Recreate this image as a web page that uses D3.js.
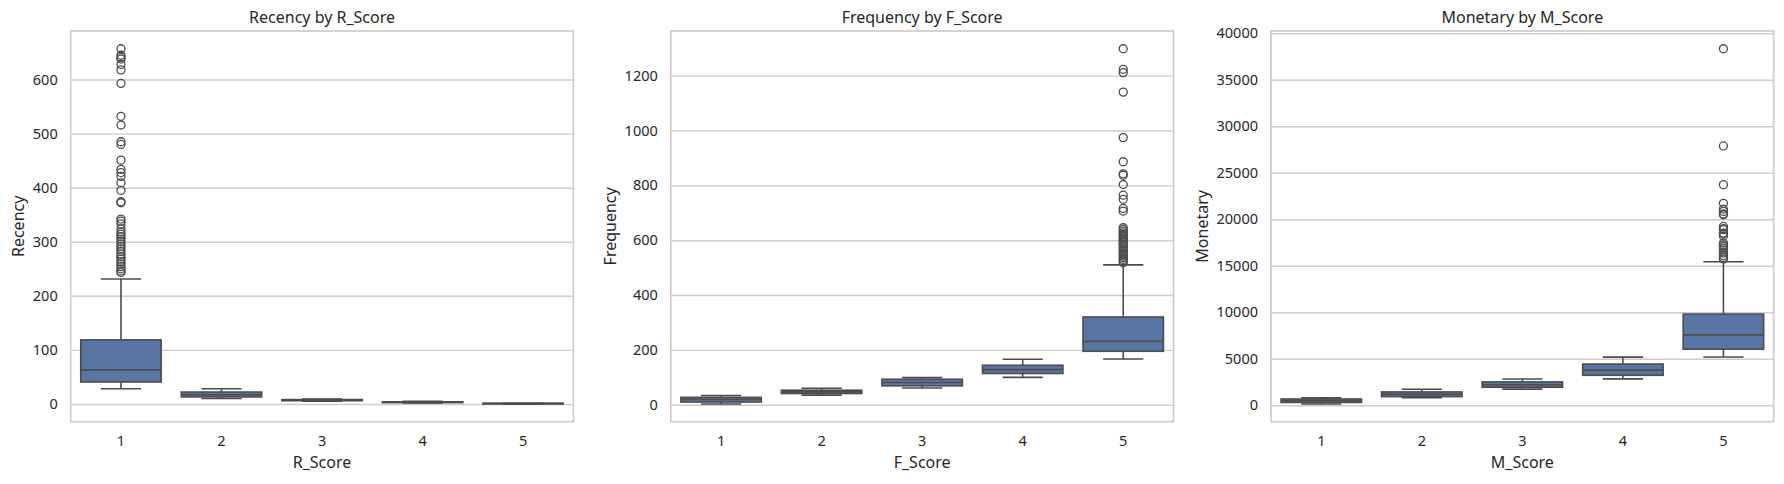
<!DOCTYPE html>
<html><head><meta charset="utf-8">
<script src="https://cdn.jsdelivr.net/npm/d3@7"></script>
<style>
body{margin:0;background:#fff}
text{font-family:"Noto Sans","Open Sans",sans-serif;fill:#262626}
</style>
</head><body>
<svg id="c" width="1784" height="484"></svg>
<script>
const categories = ["1","2","3","4","5"];

// Recency by R_Score
const recencyLow    = [28, 10, 5, 2, 0];
const recencyQ1     = [40.6, 13, 6, 2.5, 0];
const recencyMedian = [63, 17, 7, 3, 1];
const recencyQ3     = [118.5, 22, 8, 4, 1];
const recencyHigh   = [231, 28, 9, 5, 1];
const recencyOutliers = [
  [657, 645, 641, 638, 628, 618, 593, 532, 516, 485, 480, 451, 434, 428, 421, 409, 395, 374, 372,
   342, 338, 333, 324, 318, 314, 309, 305, 300, 296, 291, 287, 282, 277, 272, 268, 263, 259, 254, 250, 246, 243],
  [], [], [], []
];
const recencyTicks = [0, 100, 200, 300, 400, 500, 600];

// Frequency by F_Score
const frequencyLow    = [3, 35, 61, 100, 167];
const frequencyQ1     = [10, 41, 69, 114, 195];
const frequencyMedian = [19, 47, 81, 128, 231];
const frequencyQ3     = [27, 53, 93, 144, 320];
const frequencyHigh   = [34, 60, 99, 166, 510];
const frequencyOutliers = [
  [], [], [], [],
  [1298, 1223, 1211, 1140, 974, 886, 842, 837, 803, 764, 749, 716, 706, 646, 640, 633, 627, 621, 615,
   609, 603, 597, 591, 585, 579, 573, 566, 560, 554, 548, 542, 536, 530, 524, 518]
];
const frequencyTicks = [0, 200, 400, 600, 800, 1000, 1200];

// Monetary by M_Score
const monetaryLow    = [140, 800, 1730, 2840, 5190];
const monetaryQ1     = [300, 930, 1940, 3220, 6030];
const monetaryMedian = [480, 1180, 2210, 3780, 7570];
const monetaryQ3     = [670, 1430, 2510, 4430, 9800];
const monetaryHigh   = [790, 1720, 2830, 5180, 15440];
const monetaryOutliers = [
  [], [], [], [],
  [38340, 27890, 23720, 21720, 21100, 20850, 20570, 20490, 19230, 19000, 18880, 18520, 18450, 18200,
   17450, 17250, 17080, 16900, 16720, 16370, 16100, 15900, 15720]
];
const monetaryTicks = [0, 5000, 10000, 15000, 20000, 25000, 30000, 35000, 40000];

const panels = [
  {title:"Recency by R_Score", xLabel:"R_Score", yLabel:"Recency",
   low:recencyLow, q1:recencyQ1, med:recencyMedian, q3:recencyQ3, high:recencyHigh, out:recencyOutliers, ticks:recencyTicks},
  {title:"Frequency by F_Score", xLabel:"F_Score", yLabel:"Frequency",
   low:frequencyLow, q1:frequencyQ1, med:frequencyMedian, q3:frequencyQ3, high:frequencyHigh, out:frequencyOutliers, ticks:frequencyTicks},
  {title:"Monetary by M_Score", xLabel:"M_Score", yLabel:"Monetary",
   low:monetaryLow, q1:monetaryQ1, med:monetaryMedian, q3:monetaryQ3, high:monetaryHigh, out:monetaryOutliers, ticks:monetaryTicks}
];

const svg = d3.select("#c");
const plotTop = 31, plotBottom = 421.7, pw = 502.7;
const lefts = [70.7, 670.8, 1271];
const fill = "#5975a4", line = "#4c4c4c", gridC = "#cccccc";

panels.forEach((p, i) => {
  const L = lefts[i];
  const x = d3.scaleBand().domain(categories).range([L, L + pw]);
  const all = [...p.low, ...p.high, ...p.out.flat()];
  const mn = d3.min(all), mx = d3.max(all), pad = (mx - mn) * 0.05;
  const y = d3.scaleLinear().domain([mn - pad, mx + pad]).range([plotBottom, plotTop]);
  const g = svg.append("g");

  // y axis with grid
  const ya = g.append("g").attr("transform", `translate(${L},0)`)
    .call(d3.axisLeft(y).tickValues(p.ticks).tickSize(-pw).tickPadding(13).tickFormat(d3.format("d")));
  ya.select(".domain").remove();
  ya.selectAll(".tick line").attr("stroke", gridC).attr("stroke-width", 1.4);
  ya.selectAll(".tick text").attr("font-size", "14.5px").attr("fill", "#262626")
    .style("font-family", '"Noto Sans","Open Sans",sans-serif');

  // x axis
  const xa = g.append("g").attr("transform", `translate(0,${plotBottom})`)
    .call(d3.axisBottom(x).tickSize(0).tickPadding(14.5));
  xa.select(".domain").remove();
  xa.selectAll(".tick text").attr("font-size", "14.5px").attr("fill", "#262626")
    .style("font-family", '"Noto Sans","Open Sans",sans-serif');

  // boxes
  const bw = x.bandwidth() * 0.8;
  categories.forEach((c, k) => {
    const cx = x(c) + x.bandwidth() / 2;
    const bg = g.append("g");
    bg.append("line").attr("x1", cx).attr("x2", cx).attr("y1", y(p.q3[k])).attr("y2", y(p.high[k]))
      .attr("stroke", line).attr("stroke-width", 1.6);
    bg.append("line").attr("x1", cx).attr("x2", cx).attr("y1", y(p.q1[k])).attr("y2", y(p.low[k]))
      .attr("stroke", line).attr("stroke-width", 1.6);
    [p.high[k], p.low[k]].forEach(v => {
      bg.append("line").attr("x1", cx - bw / 4).attr("x2", cx + bw / 4).attr("y1", y(v)).attr("y2", y(v))
        .attr("stroke", line).attr("stroke-width", 1.6);
    });
    bg.append("rect").attr("x", cx - bw / 2).attr("width", bw)
      .attr("y", y(p.q3[k])).attr("height", Math.max(0, y(p.q1[k]) - y(p.q3[k])))
      .attr("fill", fill).attr("stroke", line).attr("stroke-width", 1.6);
    bg.append("line").attr("x1", cx - bw / 2).attr("x2", cx + bw / 2)
      .attr("y1", y(p.med[k])).attr("y2", y(p.med[k])).attr("stroke", line).attr("stroke-width", 1.6);
    bg.selectAll("circle.o").data(p.out[k]).join("circle").attr("class", "o")
      .attr("cx", cx).attr("cy", d => y(d)).attr("r", 4)
      .attr("fill", "none").attr("stroke", line).attr("stroke-width", 1.3);
  });

  // spines
  g.append("rect").attr("x", L).attr("y", plotTop).attr("width", pw).attr("height", plotBottom - plotTop)
    .attr("fill", "none").attr("stroke", gridC).attr("stroke-width", 1.7);

  // title
  g.append("text").attr("x", L + pw / 2).attr("y", 23.3).attr("text-anchor", "middle")
    .attr("font-size", "16px").text(p.title);
  // x label
  g.append("text").attr("x", L + pw / 2).attr("y", 468.3).attr("text-anchor", "middle")
    .attr("font-size", "16px").text(p.xLabel);
  // y label
  let maxW = 0;
  ya.selectAll(".tick text").each(function(){ maxW = Math.max(maxW, this.getBBox().width); });
  const yl = L - 13 - maxW - 8.5;
  g.append("text").attr("transform", `translate(${yl},${(plotTop + plotBottom) / 2}) rotate(-90)`)
    .attr("text-anchor", "middle").attr("font-size", "16px").text(p.yLabel);
});
</script>
</body></html>
